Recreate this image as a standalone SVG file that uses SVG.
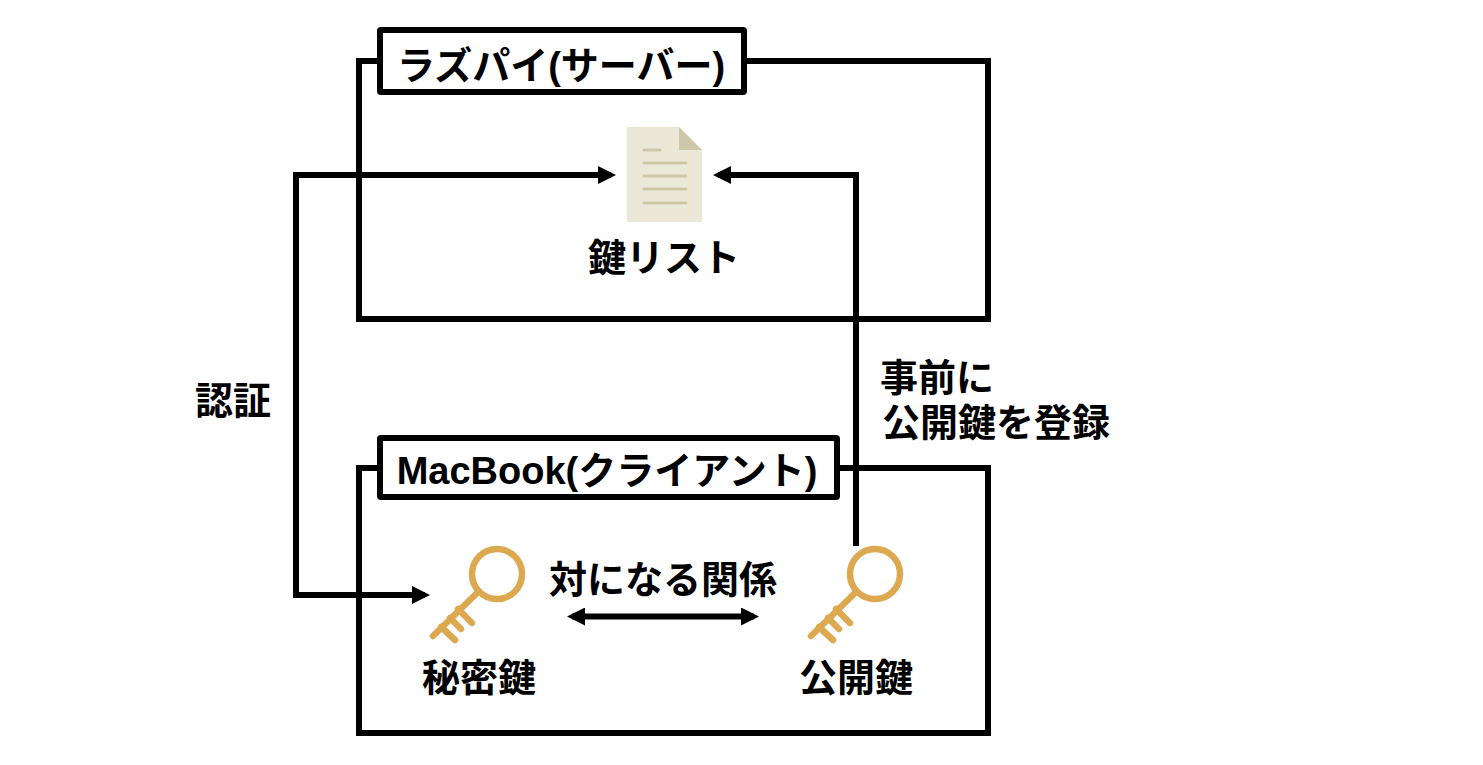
<svg xmlns="http://www.w3.org/2000/svg" width="1483" height="765" viewBox="0 0 1483 765">
<style>
text{font-family:"Liberation Sans","Noto Sans CJK JP",sans-serif;font-weight:700;font-size:38px;fill:#000;text-anchor:middle}
.box{fill:#fff;stroke:#000;stroke-width:6;stroke-linejoin:round}
.line{fill:none;stroke:#000;stroke-width:6;stroke-linejoin:miter}
.conn{fill:none;stroke:#000;stroke-width:6}
.kr{fill:none;stroke:#dca850;stroke-width:6.500;stroke-linecap:round}
</style>
<defs>
<marker id="ah" markerUnits="userSpaceOnUse" markerWidth="18" markerHeight="18" viewBox="0 0 18 18" refX="13" refY="9" orient="auto-start-reverse"><path d="M0 0L18 9L0 18z" fill="#000"/></marker>
<g id="key"><circle cx="497" cy="574" r="25" class="kr"/><path class="kr" d="M478 592L433 636M441 627L455 640M450 618L461 629M458 609L472 623"/></g>
</defs>
<g id="server"><path class="line" d="M380 61H359V319H988V61H745"/><rect class="box" x="380" y="30" width="364" height="62" rx="1"/><text x="561" y="79">ラズパイ(サーバー)</text></g>
<g id="client"><path class="line" d="M380 468H359V733H988V468H837"/><rect class="box" x="380" y="438" width="457" height="59" rx="1"/><text x="607" y="484">MacBook(クライアント)</text></g>
<g id="keylist"><path d="M627 127H679L702 150V222H627z" fill="#ece8d8"/><path d="M679 127L702 150H679z" fill="#cec7aa"/><path d="M644 150H660M644 163H686M644 176H686M644 189H686M644 203H686" stroke="#cec7aa" stroke-width="3" stroke-linecap="round"/><text x="664" y="271">鍵リスト</text></g>
<g id="secret-key"><use href="#key"/><text x="479" y="691">秘密鍵</text></g>
<g id="public-key"><use href="#key" x="378"/><text x="856" y="691">公開鍵</text></g>
<g id="connectors">
<path class="conn" marker-start="url(#ah)" marker-end="url(#ah)" d="M425 595H296V175H611"/>
<path class="conn" marker-end="url(#ah)" d="M856 546V175H718"/>
<path class="conn" marker-start="url(#ah)" marker-end="url(#ah)" d="M572 616.500H754"/>
</g>
<g id="labels"><text x="233" y="414">認証</text><text x="663" y="593">対になる関係</text><text x="937" y="391">事前に</text><text x="996" y="436">公開鍵を登録</text></g>
</svg>
